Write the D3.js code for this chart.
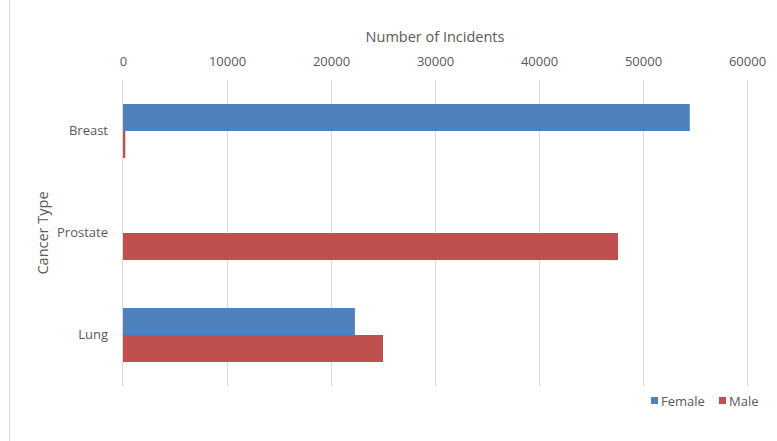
<!DOCTYPE html>
<html>
<head>
<meta charset="utf-8">
<script src="https://cdn.jsdelivr.net/npm/d3@7/dist/d3.min.js"></script>
<style>
  html, body { margin: 0; padding: 0; background: #fff; }
  svg text { font-family: "Open Sans", "Noto Sans", sans-serif; fill: #595959; }
</style>
</head>
<body>
<svg id="chart" width="777" height="441"></svg>
<script>
// Incidents by cancer type, split by sex
const categories = ["Breast", "Prostate", "Lung"];
const seriesNames = ["Female", "Male"];
const femaleValues = [54500, 0, 22300];
const maleValues = [220, 47600, 25000];
const xTicks = [0, 10000, 20000, 30000, 40000, 50000, 60000];
const colors = ["#4F81BD", "#C0504D"];

const svg = d3.select("#chart");
const margin = { left: 123, right: 30, top: 80, bottom: 55 };
const W = 777, H = 441;

// chart frame edge
svg.append("line")
  .attr("x1", 9.5).attr("x2", 9.5).attr("y1", 0).attr("y2", H)
  .attr("stroke", "#d9d9d9").attr("stroke-width", 1);

const x = d3.scaleLinear().domain([0, 60000]).range([margin.left, 747]);
const y = d3.scaleBand().domain(categories).range([margin.top, 386])
  .paddingInner(0.47).paddingOuter(0.235);
const ySub = d3.scaleBand().domain(seriesNames).range([0, y.bandwidth()]);

// gridlines
svg.append("g").selectAll("line").data(xTicks.slice(1)).join("line")
  .attr("x1", d => Math.round(x(d)) + 0.5).attr("x2", d => Math.round(x(d)) + 0.5)
  .attr("y1", margin.top).attr("y2", 386)
  .attr("stroke", "#d9d9d9").attr("stroke-width", 1);

// top axis labels
const xAxis = d3.axisTop(x).tickValues(xTicks).tickFormat(d3.format("d")).tickSize(0).tickPadding(0);
const gx = svg.append("g").attr("transform", "translate(0,66)").call(xAxis);
gx.select(".domain").remove();
gx.selectAll("text").style("font-size", "13px").attr("fill", "#595959")
  .style("font-family", "'Open Sans', sans-serif");

svg.append("text").attr("x", (x(0) + x(60000)) / 2).attr("y", 42)
  .attr("text-anchor", "middle").style("font-size", "14.5px").text("Number of Incidents");

// bars
const rows = categories.map((c, i) => ({ cat: c, vals: [femaleValues[i], maleValues[i]] }));
const groups = svg.append("g").selectAll("g").data(rows).join("g")
  .attr("transform", d => `translate(0,${y(d.cat)})`);
groups.selectAll("rect").data(d => d.vals.map((v, j) => ({ v, s: seriesNames[j], j })))
  .join("rect")
  .attr("x", x(0))
  .attr("y", d => ySub(d.s))
  .attr("width", d => x(d.v) - x(0))
  .attr("height", ySub.bandwidth())
  .attr("fill", d => colors[d.j]);

// value axis line at zero
svg.append("line")
  .attr("x1", x(0) - 0.5).attr("x2", x(0) - 0.5).attr("y1", margin.top).attr("y2", 386)
  .attr("stroke", "#d9d9d9").attr("stroke-width", 1);

// category axis labels
const yAxis = d3.axisLeft(y).tickSize(0).tickPadding(0);
const gy = svg.append("g").attr("transform", "translate(108,0)").call(yAxis);
gy.select(".domain").remove();
gy.selectAll("text").style("font-size", "13px").attr("fill", "#595959")
  .style("font-family", "'Open Sans', sans-serif");

svg.append("text")
  .attr("transform", `translate(48,${(margin.top + 386) / 2}) rotate(-90)`)
  .attr("text-anchor", "middle").style("font-size", "14.5px").text("Cancer Type");

// legend
const legend = svg.append("g").attr("transform", "translate(651,401)");
const legendX = [0, 68];
seriesNames.forEach((s, j) => {
  const g = legend.append("g").attr("transform", `translate(${legendX[j]},0)`);
  g.append("rect").attr("x", 0).attr("y", -4).attr("width", 7).attr("height", 7).attr("fill", colors[j]);
  g.append("text").attr("x", 10).attr("y", 0).attr("dy", "0.35em")
    .style("font-size", "13px").text(s);
});
</script>
</body>
</html>
